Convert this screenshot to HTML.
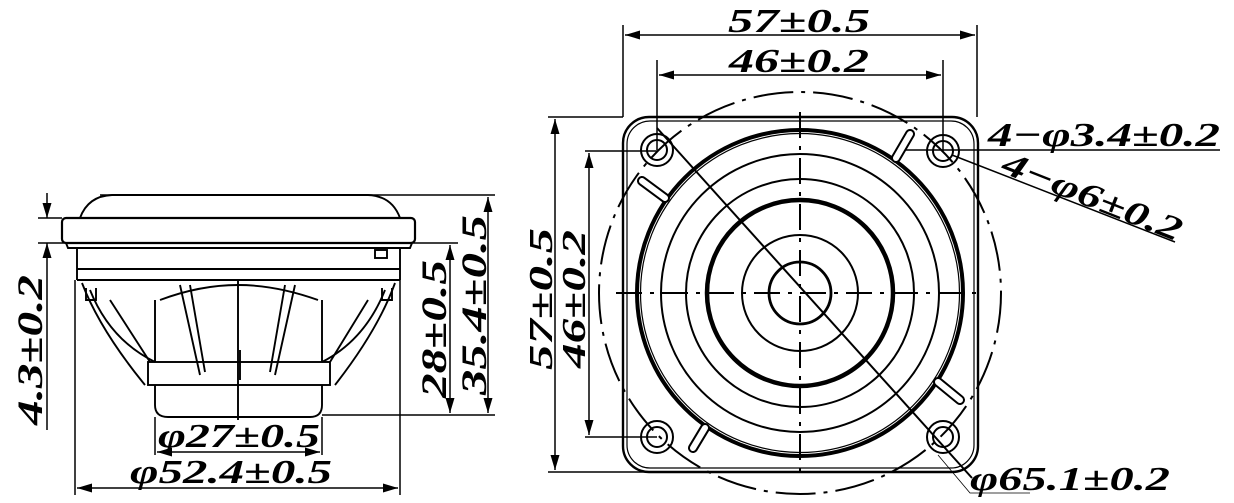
<!DOCTYPE html>
<html><head><meta charset="utf-8"><style>
html,body{margin:0;padding:0;background:#fff;}
svg{display:block;}
text{font-family:"Liberation Serif",serif;font-style:italic;font-weight:bold;fill:#000;}
</style></head><body>
<svg width="1234" height="503" viewBox="0 0 1234 503" xmlns="http://www.w3.org/2000/svg">
<defs>
<marker id="ar" viewBox="0 0 10 6" refX="10" refY="3" markerWidth="10" markerHeight="6" orient="auto-start-reverse"><path d="M0,0 L10,3 L0,6 z" fill="#000"/></marker>
</defs>
<g fill="none" stroke="#000" stroke-width="1.9">
  <path d="M80,218 Q88,196 112,195 L368,195 Q392,196 400,218"/>
  <rect x="62" y="218" width="353" height="25" rx="4" stroke-width="2.2"/>
  <path d="M66,243 L68,248 L410,248 L412,243"/>
  <path d="M77,248 L77,280 M400,248 L400,280 M77,269 L400,269 M77,280 L400,280"/>
  <path d="M82,283 Q100,330 145,385 M90,290 Q110,340 155,362 M395,283 Q378,330 335,385 M385,290 Q365,340 322,362"/>
  <path d="M110,300 L150,362 M368,300 L330,362 M180,285 L200,375 M295,285 L275,375 M190,285 L205,372 M285,285 L270,372"/>
  <path d="M160,300 Q200,285 238,285 Q276,285 318,300"/>
  <rect x="148" y="362" width="182" height="23"/>
  <path d="M155,385 L155,405 Q155,417 168,417 L310,417 Q322,417 322,405 L322,385"/>
  <path d="M155,300 L155,362 M322,300 L322,362"/>
  <path d="M238,280 L238,420 M240,350 L240,380" />
  <rect x="375" y="250" width="12" height="8"/>
  <path d="M86,288 L86,300 L96,300 L96,288 M382,288 L382,300 L392,300 L392,288"/>
</g>
<g fill="none" stroke="#000" stroke-width="1.5">
  <path d="M100,195 L495,195 M38,218 L62,218 M38,243 L458,243 M322,415 L495,415"/>
  <path d="M488,197 L488,413" marker-start="url(#ar)" marker-end="url(#ar)"/>
  <path d="M450,245 L450,413" marker-start="url(#ar)" marker-end="url(#ar)"/>
  <path d="M47,193 L47,218" marker-end="url(#ar)"/>
  <path d="M47,430 L47,243" marker-end="url(#ar)"/>
  <path d="M155,417 L155,455 M322,417 L322,455"/>
  <path d="M157,452 L320,452" marker-start="url(#ar)" marker-end="url(#ar)"/>
  <path d="M75,280 L75,495 M400,280 L400,495"/>
  <path d="M77,488 L398,488" marker-start="url(#ar)" marker-end="url(#ar)"/>
</g>
<text x="158" y="447" font-size="34" textLength="162" lengthAdjust="spacingAndGlyphs">φ27±0.5</text>
<text x="130" y="483" font-size="34" textLength="202" lengthAdjust="spacingAndGlyphs">φ52.4±0.5</text>
<text transform="translate(42,425) rotate(-90)" font-size="36" textLength="150" lengthAdjust="spacingAndGlyphs">4.3±0.2</text>
<text transform="translate(446,398) rotate(-90)" font-size="36" textLength="138" lengthAdjust="spacingAndGlyphs">28±0.5</text>
<text transform="translate(486,395) rotate(-90)" font-size="36" textLength="180" lengthAdjust="spacingAndGlyphs">35.4±0.5</text>

<g fill="none" stroke="#000" stroke-width="2">
  <rect x="623" y="117" width="355" height="355" rx="26" stroke-width="2.4"/>
  <rect x="627" y="121" width="347" height="347" rx="23" stroke-width="1.2"/>
  <circle cx="800" cy="293" r="201" stroke-dasharray="40,8,4,8"/>
  <circle cx="800" cy="293" r="163" stroke-width="4"/>
  <circle cx="800" cy="293" r="159.5" stroke-width="1.2"/>
  <circle cx="800" cy="293" r="139"/>
  <circle cx="800" cy="293" r="114"/>
  <circle cx="800" cy="293" r="93" stroke-width="4.5"/>
  <circle cx="800" cy="293" r="58"/>
  <circle cx="800" cy="293" r="31" stroke-width="2.8"/>
  <g>
    <circle cx="657" cy="150" r="16"/><circle cx="657" cy="150" r="10"/>
    <circle cx="943" cy="151" r="16"/><circle cx="943" cy="151" r="10"/>
    <circle cx="657" cy="437" r="16"/><circle cx="657" cy="437" r="10"/>
    <circle cx="943" cy="437" r="16"/><circle cx="943" cy="437" r="10"/>
  </g>
  <g stroke-linecap="round">
    <path d="M642,181 L665,198 M910,134 L896,158 M693,448 L705,428 M938,382 L960,400" stroke-width="10"/>
    <path d="M642,181 L665,198 M910,134 L896,158 M693,448 L705,428 M938,382 L960,400" stroke-width="6" stroke="#fff"/>
  </g>
  <path d="M616,293 L984,293 M800,112 L800,478" stroke-dasharray="26,8,4,8"/>
  <path d="M657,128 L972,478"/>
</g>
<g fill="none" stroke="#000" stroke-width="1.5">
  <path d="M623,25 L623,117 M977,25 L977,117 M657,60 L657,150 M943,60 L943,151"/>
  <path d="M625,35 L975,35" marker-start="url(#ar)" marker-end="url(#ar)"/>
  <path d="M659,75 L941,75" marker-start="url(#ar)" marker-end="url(#ar)"/>
  <path d="M548,117 L623,117 M548,472 L800,472 M585,151 L657,151 M585,437 L657,437"/>
  <path d="M555,119 L555,470" marker-start="url(#ar)" marker-end="url(#ar)"/>
  <path d="M589,153 L589,435" marker-start="url(#ar)" marker-end="url(#ar)"/>
  <path d="M905,150 L1220,150"/>
  <path d="M952,155 L1175,242"/>
  <path d="M938,455 L970,493 L1030,493" stroke-width="0.8"/>
</g>
<text x="728" y="32" font-size="34" textLength="142" lengthAdjust="spacingAndGlyphs">57±0.5</text>
<text x="729" y="72" font-size="34" textLength="140" lengthAdjust="spacingAndGlyphs">46±0.2</text>
<text transform="translate(552,370) rotate(-90)" font-size="34" textLength="142" lengthAdjust="spacingAndGlyphs">57±0.5</text>
<text transform="translate(585,368) rotate(-90)" font-size="34" textLength="138" lengthAdjust="spacingAndGlyphs">46±0.2</text>
<text x="988" y="146" font-size="34" textLength="232" lengthAdjust="spacingAndGlyphs">4−φ3.4±0.2</text>
<text transform="translate(1000,172) rotate(21.5)" font-size="34" textLength="190" lengthAdjust="spacingAndGlyphs">4−φ6±0.2</text>
<text x="970" y="490" font-size="34" textLength="200" lengthAdjust="spacingAndGlyphs">φ65.1±0.2</text>
</svg>
</body></html>
